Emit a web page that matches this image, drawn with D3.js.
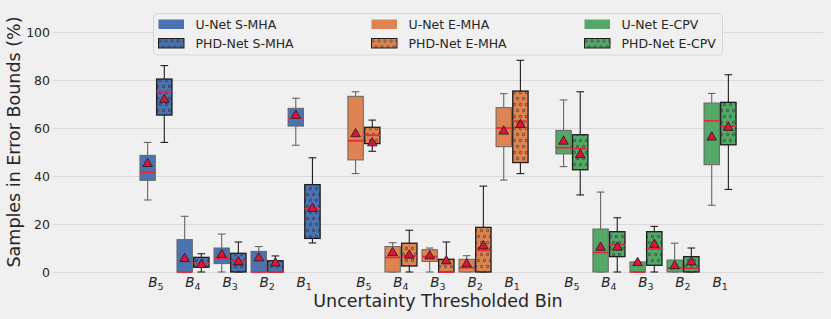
<!DOCTYPE html>
<html>
<head>
<meta charset="utf-8">
<script src="https://cdn.jsdelivr.net/npm/d3@7"></script>
<style>
  body { margin: 0; background: #f0f0f0; }
  svg { display: block; font-family: "DejaVu Sans", sans-serif; }
</style>
</head>
<body>
<script>
/* ---------- data ---------- */
var groups = ["S-MHA", "E-MHA", "E-CPV"];
var models = ["U-Net", "PHD-Net"];
var bins = ["5", "4", "3", "2", "1"];          // B5 .. B1
var groupColors = ["#4c72b0", "#dd8452", "#55a868"];
var yTicks = [0, 20, 40, 60, 80, 100];

// each row: [whisker low, q1, median, q3, whisker high, mean], bins B5..B1
var unetSmha = [[30.0, 38.2, 41.5, 48.6, 54.0, 45.7],
                [0, 0, 0, 13.5, 23.2, 6.1],
                [0, 3.5, 5.6, 10.0, 15.8, 7.8],
                [0, 0, 0, 8.6, 10.6, 6.4],
                [52.8, 60.8, 64.2, 68.2, 72.4, 65.8]];
var phdSmha  = [[54.0, 65.4, 75.1, 80.4, 86.0, 72.4],
                [0, 2.0, 3.6, 6.1, 7.6, 3.6],
                [0, 0, 4.7, 7.8, 12.5, 4.7],
                [0, 0, 0, 4.7, 6.7, 4.3],
                [12.1, 14.0, 26.4, 36.4, 47.6, 27.0]];
var unetEmha = [[41.0, 46.7, 54.7, 73.2, 75.1, 58.1],
                [0, 0, 6.1, 10.6, 12.2, 8.6],
                [0, 4.4, 6.4, 9.3, 10.0, 7.2],
                [0, 0, 1.8, 5.3, 6.8, 3.9],
                [38.3, 52.2, 60.0, 68.5, 74.3, 59.2]];
var phdEmha  = [[50.3, 53.5, 57.0, 60.3, 63.3, 54.3],
                [0, 2.5, 6.7, 12.0, 17.4, 7.5],
                [0, 0, 0, 5.3, 12.5, 5.1],
                [0, 0, 9.0, 18.6, 35.8, 11.4],
                [41.0, 45.6, 62.8, 75.4, 88.2, 61.9]];
var unetEcpv = [[43.9, 49.2, 51.8, 59.0, 71.7, 55.0],
                [0, 0, 8.1, 17.9, 33.3, 10.8],
                [0, 0, 0, 4.2, 4.2, 4.4],
                [0, 0, 1.7, 5.0, 12.0, 3.1],
                [27.8, 44.7, 63.0, 70.4, 74.4, 56.7]];
var phdEcpv  = [[32.1, 42.6, 51.4, 57.2, 75.1, 49.4],
                [0, 6.4, 11.4, 16.8, 22.6, 10.8],
                [0, 2.8, 9.7, 16.8, 19.0, 12.0],
                [0, 0, 1.5, 6.4, 10.0, 4.7],
                [34.4, 53.0, 60.8, 70.7, 82.2, 60.7]];

var seriesStats = [[unetSmha, phdSmha], [unetEmha, phdEmha], [unetEcpv, phdEcpv]];

/* ---------- layout ---------- */
var W = 831, H = 319;
var groupStep = 5.615;   // x units between the first bins of two groups
var boxOffset = 0.225, boxWidth = 0.415;

var svg = d3.select("body").append("svg")
    .attr("width", W).attr("height", H);

svg.append("rect").attr("width", W).attr("height", H).attr("fill", "#f0f0f0");

var x = d3.scaleLinear()
    .domain([-2.78, 2 * groupStep + 4 + 2.78])
    .range([53, 823]);
var y = d3.scaleLinear().domain([0, 100]).range([272, 32]);

// hatch pattern with small circles (staggered rows, like mpl 'o')
var defs = svg.append("defs");
var pat = defs.append("pattern")
    .attr("id", "dots")
    .attr("patternUnits", "userSpaceOnUse")
    .attr("width", 6).attr("height", 12);
[[1.5, 2.5], [4.5, 8.5]].forEach(function(c) {
  pat.append("circle")
     .attr("cx", c[0]).attr("cy", c[1]).attr("r", 1.2)
     .attr("fill", "none").attr("stroke", "#222").attr("stroke-width", 0.65);
});

/* ---------- grid + y axis ---------- */
var yAxis = svg.append("g")
    .attr("transform", "translate(53,0)")
    .call(d3.axisLeft(y).tickValues(yTicks).tickSize(-770).tickPadding(3));
yAxis.select(".domain").remove();
yAxis.selectAll(".tick line").attr("stroke", "#d9d9d9").attr("stroke-width", 1);
yAxis.selectAll(".tick text")
    .attr("font-size", 12.5).attr("fill", "#262626")
    .attr("font-family", "DejaVu Sans, sans-serif");

svg.append("text")
    .attr("transform", "translate(19.5,142) rotate(-90)")
    .attr("text-anchor", "middle")
    .attr("font-size", 17.5).attr("fill", "#262626")
    .text("Samples in Error Bounds (%)");

/* ---------- boxes ---------- */
var boxes = [];
seriesStats.forEach(function(pair, g) {
  pair.forEach(function(stats, m) {
    stats.forEach(function(s, b) {
      boxes.push({ g: g, m: m, b: b,
                   pos: g * groupStep + b + (m === 0 ? -boxOffset : boxOffset),
                   lo: s[0], q1: s[1], med: s[2], q3: s[3], hi: s[4], mean: s[5] });
    });
  });
});

var half = (x(boxWidth) - x(0)) / 2;
var edgeCol = function(d) { return d.m === 0 ? "#666666" : "#1e1e1e"; };

var bx = svg.append("g").selectAll("g")
    .data(boxes)
    .enter()
    .append("g");

// whiskers
bx.append("line")
  .attr("x1", function(d) { return x(d.pos); })
  .attr("x2", function(d) { return x(d.pos); })
  .attr("y1", function(d) { return y(d.hi); })
  .attr("y2", function(d) { return y(d.q3); })
  .attr("stroke", edgeCol).attr("stroke-width", 1.1);
bx.append("line")
  .attr("x1", function(d) { return x(d.pos); })
  .attr("x2", function(d) { return x(d.pos); })
  .attr("y1", function(d) { return y(d.q1); })
  .attr("y2", function(d) { return y(d.lo); })
  .attr("stroke", edgeCol).attr("stroke-width", 1.1);
// caps
["hi", "lo"].forEach(function(k) {
  bx.append("line")
    .attr("x1", function(d) { return x(d.pos) - half / 2; })
    .attr("x2", function(d) { return x(d.pos) + half / 2; })
    .attr("y1", function(d) { return y(d[k]); })
    .attr("y2", function(d) { return y(d[k]); })
    .attr("stroke", edgeCol).attr("stroke-width", 1.1);
});

// box body
bx.append("rect")
  .attr("x", function(d) { return x(d.pos) - half; })
  .attr("y", function(d) { return y(d.q3); })
  .attr("width", half * 2)
  .attr("height", function(d) { return y(d.q1) - y(d.q3); })
  .attr("fill", function(d) { return groupColors[d.g]; });
bx.filter(function(d) { return d.m === 1; })
  .append("rect")
  .attr("x", function(d) { return x(d.pos) - half; })
  .attr("y", function(d) { return y(d.q3); })
  .attr("width", half * 2)
  .attr("height", function(d) { return y(d.q1) - y(d.q3); })
  .attr("fill", "url(#dots)");
bx.append("rect")
  .attr("x", function(d) { return x(d.pos) - half; })
  .attr("y", function(d) { return y(d.q3); })
  .attr("width", half * 2)
  .attr("height", function(d) { return y(d.q1) - y(d.q3); })
  .attr("fill", "none")
  .attr("stroke", edgeCol)
  .attr("stroke-width", function(d) { return d.m === 0 ? 1 : 1.3; });

// median
bx.append("line")
  .attr("x1", function(d) { return x(d.pos) - half; })
  .attr("x2", function(d) { return x(d.pos) + half; })
  .attr("y1", function(d) { return y(d.med); })
  .attr("y2", function(d) { return y(d.med); })
  .attr("stroke", "#e8283f").attr("stroke-width", 1.8);

// mean marker (d3 centres on the centroid; shift so the bbox centre sits on the value)
var tri = d3.symbol().type(d3.symbolTriangle).size(40);
bx.append("path")
  .attr("d", tri)
  .attr("transform", function(d) { return "translate(" + x(d.pos) + "," + (y(d.mean) + 1.4) + ")"; })
  .attr("fill", "#dc143c")
  .attr("stroke", "#1a1a1a").attr("stroke-width", 0.8);

/* ---------- x tick labels ---------- */
var ticks = [];
groups.forEach(function(gName, g) {
  bins.forEach(function(bn, b) { ticks.push({ pos: g * groupStep + b, sub: bn }); });
});
var tl = svg.append("g").selectAll("text")
    .data(ticks)
    .enter()
    .append("text")
    .attr("x", function(d) { return x(d.pos); })
    .attr("y", 287)
    .attr("text-anchor", "middle")
    .attr("font-size", 13.5)
    .attr("fill", "#262626");
tl.append("tspan").attr("font-style", "italic").text("B");
tl.append("tspan").attr("font-size", 9.5).attr("dy", 3).text(function(d) { return d.sub; });

svg.append("text")
    .attr("x", (x.range()[0] + x.range()[1]) / 2)
    .attr("y", 307)
    .attr("text-anchor", "middle")
    .attr("font-size", 17.5).attr("fill", "#262626")
    .text("Uncertainty Thresholded Bin");

/* ---------- legend ---------- */
var legend = svg.append("g");
legend.append("rect")
  .attr("x", 153.5).attr("y", 13.5)
  .attr("width", 569).attr("height", 41.5)
  .attr("rx", 3.5)
  .attr("fill", "#f0f0f0").attr("stroke", "#d6d6d6").attr("stroke-width", 1);

var legendItems = [];
groups.forEach(function(gName, g) {
  models.forEach(function(mName, m) {
    legendItems.push({ g: g, m: m, label: mName + " " + gName });
  });
});
var colX = [158.5, 371.5, 584.5];
var rowY = [19.5, 38.5];
var li = legend.selectAll("g.item")
    .data(legendItems)
    .enter()
    .append("g")
    .attr("class", "item")
    .attr("transform", function(d) { return "translate(" + colX[d.g] + "," + rowY[d.m] + ")"; });
li.append("rect")
  .attr("width", 25.5).attr("height", 9.5)
  .attr("fill", function(d) { return groupColors[d.g]; });
li.filter(function(d) { return d.m === 1; })
  .append("rect")
  .attr("width", 25.5).attr("height", 9.5)
  .attr("fill", "url(#dots)")
  .attr("stroke", "#1e1e1e").attr("stroke-width", 1);
li.append("text")
  .attr("x", 37).attr("y", 9.2)
  .attr("font-size", 12.5).attr("fill", "#262626")
  .text(function(d) { return d.label; });
</script>
</body>
</html>
